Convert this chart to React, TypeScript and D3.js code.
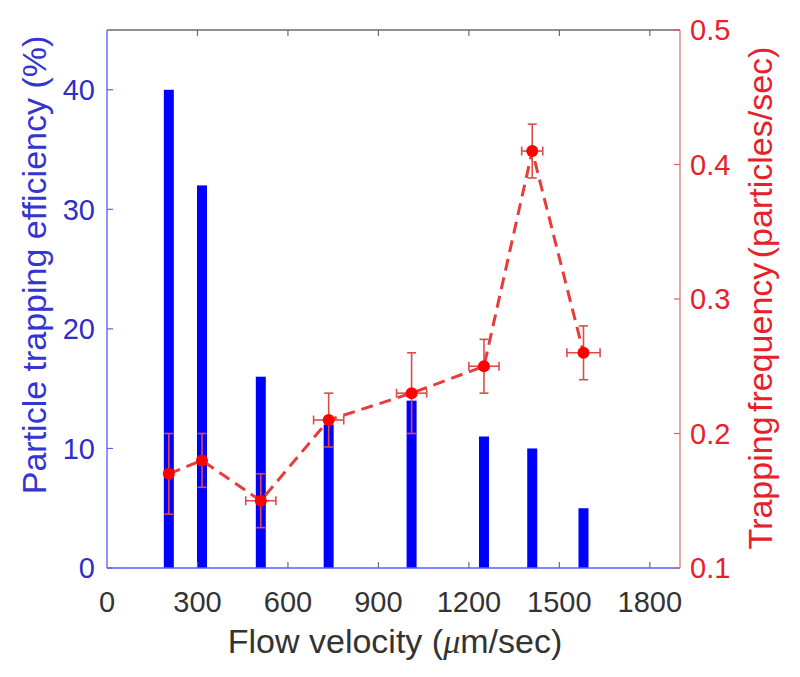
import { useEffect, useRef } from "react";
import * as d3 from "d3";

// values
const velocity = [205, 315, 510, 735, 1010, 1250, 1410, 1580];
const efficiency = [40, 32, 16, 12, 14, 11, 10, 5];
const frequency = [0.17, 0.18, 0.15, 0.21, 0.23, 0.25, 0.41, 0.26];
const freqErr = [0.03, 0.02, 0.02, 0.02, 0.03, 0.02, 0.02, 0.02];
const velErr = [0, 0, 50, 50, 50, 50, 35, 55];

const xTicks = [0, 300, 600, 900, 1200, 1500, 1800];
const leftTicks = [0, 10, 20, 30, 40];
const rightTicks = [0.1, 0.2, 0.3, 0.4, 0.5];

const FONT = "'Liberation Sans', Arial, sans-serif";

const App = () => {
  const svgRef = useRef<SVGSVGElement | null>(null);

  useEffect(() => {
    if (!svgRef.current) return;
    const svg = d3.select(svgRef.current);
    svg.selectAll("*").remove();

    const left = 107;
    const right = 680;
    const top = 30;
    const bottom = 568;

    const x = d3.scaleLinear().domain([0, 1900]).range([left, right]);
    const yL = d3.scaleLinear().domain([0, 45]).range([bottom, top]);
    const yR = d3.scaleLinear().domain([0.1, 0.5]).range([bottom, top]);

    const pts = velocity.map((v, i) => ({
      v,
      f: frequency[i],
      fe: freqErr[i],
      ve: velErr[i],
      e: efficiency[i],
    }));

    // bars
    const barW = 10;
    svg
      .append("g")
      .selectAll("rect")
      .data(pts)
      .enter()
      .append("rect")
      .attr("x", (d) => x(d.v) - barW / 2)
      .attr("y", (d) => yL(d.e))
      .attr("width", barW)
      .attr("height", (d) => yL(0) - yL(d.e))
      .attr("fill", "#0000ff");

    // axis lines
    svg
      .append("line")
      .attr("x1", left)
      .attr("x2", right)
      .attr("y1", top)
      .attr("y2", top)
      .attr("stroke", "#6b6b6b")
      .attr("stroke-width", 1.5);
    svg
      .append("line")
      .attr("x1", left)
      .attr("x2", right)
      .attr("y1", bottom)
      .attr("y2", bottom)
      .attr("stroke", "#5c5cff")
      .attr("stroke-width", 1.5);
    svg
      .append("line")
      .attr("x1", left)
      .attr("x2", left)
      .attr("y1", top)
      .attr("y2", bottom)
      .attr("stroke", "#6d6dff")
      .attr("stroke-width", 1.5);
    svg
      .append("line")
      .attr("x1", right)
      .attr("x2", right)
      .attr("y1", top)
      .attr("y2", bottom)
      .attr("stroke", "#e08a8a")
      .attr("stroke-width", 1.5);

    // x ticks top and bottom (inward)
    const tl = 6;
    const xt = xTicks.filter((t) => t > 0);
    svg
      .append("g")
      .selectAll("line")
      .data(xt)
      .enter()
      .append("line")
      .attr("x1", (d) => x(d))
      .attr("x2", (d) => x(d))
      .attr("y1", top)
      .attr("y2", top + tl)
      .attr("stroke", "#6b6b6b")
      .attr("stroke-width", 1.2);
    svg
      .append("g")
      .selectAll("line")
      .data(xt)
      .enter()
      .append("line")
      .attr("x1", (d) => x(d))
      .attr("x2", (d) => x(d))
      .attr("y1", bottom)
      .attr("y2", bottom - tl)
      .attr("stroke", "#6b6b6b")
      .attr("stroke-width", 1.2);

    svg
      .append("g")
      .selectAll("text")
      .data(xTicks)
      .enter()
      .append("text")
      .attr("x", (d) => x(d))
      .attr("y", 612)
      .attr("text-anchor", "middle")
      .attr("font-family", FONT)
      .attr("font-size", 29)
      .attr("fill", "#333333")
      .text((d) => d);

    // left ticks
    svg
      .append("g")
      .selectAll("line")
      .data(leftTicks)
      .enter()
      .append("line")
      .attr("x1", left)
      .attr("x2", left + tl)
      .attr("y1", (d) => yL(d))
      .attr("y2", (d) => yL(d))
      .attr("stroke", "#5c5cff")
      .attr("stroke-width", 1.2);
    svg
      .append("g")
      .selectAll("text")
      .data(leftTicks)
      .enter()
      .append("text")
      .attr("x", 95)
      .attr("y", (d) => yL(d))
      .attr("dy", "0.36em")
      .attr("text-anchor", "end")
      .attr("font-family", FONT)
      .attr("font-size", 29)
      .attr("fill", "#2e2ec8")
      .text((d) => d);

    // right ticks
    svg
      .append("g")
      .selectAll("line")
      .data(rightTicks)
      .enter()
      .append("line")
      .attr("x1", right)
      .attr("x2", right - tl)
      .attr("y1", (d) => yR(d))
      .attr("y2", (d) => yR(d))
      .attr("stroke", "#e06060")
      .attr("stroke-width", 1.2);
    svg
      .append("g")
      .selectAll("text")
      .data(rightTicks)
      .enter()
      .append("text")
      .attr("x", 690)
      .attr("y", (d) => yR(d))
      .attr("dy", "0.36em")
      .attr("font-family", FONT)
      .attr("font-size", 29)
      .attr("fill", "#e8202a")
      .text((d) => d.toFixed(1));

    // dashed line
    const line = d3
      .line<(typeof pts)[number]>()
      .x((d) => x(d.v))
      .y((d) => yR(d.f));
    svg
      .append("path")
      .datum(pts)
      .attr("d", line)
      .attr("fill", "none")
      .attr("stroke", "#e83c3c")
      .attr("stroke-width", 3)
      .attr("stroke-dasharray", "12,7");

    // error bars
    const eb = svg.append("g").attr("stroke", "#e04a4a").attr("stroke-width", 1.6);
    const cap = 4.5;
    pts.forEach((d) => {
      const cx = x(d.v);
      const cy = yR(d.f);
      const y1 = yR(d.f + d.fe);
      const y2 = yR(d.f - d.fe);
      eb.append("line").attr("x1", cx).attr("x2", cx).attr("y1", y1).attr("y2", y2);
      eb.append("line").attr("x1", cx - cap).attr("x2", cx + cap).attr("y1", y1).attr("y2", y1);
      eb.append("line").attr("x1", cx - cap).attr("x2", cx + cap).attr("y1", y2).attr("y2", y2);
      if (d.ve > 0) {
        const x1 = x(d.v - d.ve);
        const x2 = x(d.v + d.ve);
        eb.append("line").attr("x1", x1).attr("x2", x2).attr("y1", cy).attr("y2", cy);
        eb.append("line").attr("x1", x1).attr("x2", x1).attr("y1", cy - cap).attr("y2", cy + cap);
        eb.append("line").attr("x1", x2).attr("x2", x2).attr("y1", cy - cap).attr("y2", cy + cap);
      }
    });

    // markers
    svg
      .append("g")
      .selectAll("circle")
      .data(pts)
      .enter()
      .append("circle")
      .attr("cx", (d) => x(d.v))
      .attr("cy", (d) => yR(d.f))
      .attr("r", 6)
      .attr("fill", "#ff0000");

    // axis titles
    const xt2 = svg
      .append("text")
      .attr("x", 395)
      .attr("y", 653)
      .attr("text-anchor", "middle")
      .attr("font-family", FONT)
      .attr("font-size", 34)
      .attr("fill", "#333333");
    xt2.append("tspan").text("Flow velocity (");
    xt2
      .append("tspan")
      .attr("font-family", "'Liberation Serif', serif")
      .attr("font-style", "italic")
      .text("\u03bc");
    xt2.append("tspan").text("m/sec)");

    svg
      .append("text")
      .attr("transform", "translate(46,265) rotate(-90)")
      .attr("text-anchor", "middle")
      .attr("font-family", FONT)
      .attr("font-size", 34)
      .attr("fill", "#3434d0")
      .text("Particle trapping efficiency (%)");

    svg
      .append("text")
      .attr("transform", "translate(772,298) rotate(-90)")
      .attr("text-anchor", "middle")
      .attr("font-family", FONT)
      .attr("font-size", 34)
      .attr("word-spacing", -5)
      .attr("fill", "#e8202a")
      .text("Trapping frequency (particles/sec)");
  }, []);

  return (
    <svg
      ref={svgRef}
      width={800}
      height={677}
      style={{ position: "absolute", left: 0, top: 0, background: "#fff" }}
    ></svg>
  );
};

export default App;
